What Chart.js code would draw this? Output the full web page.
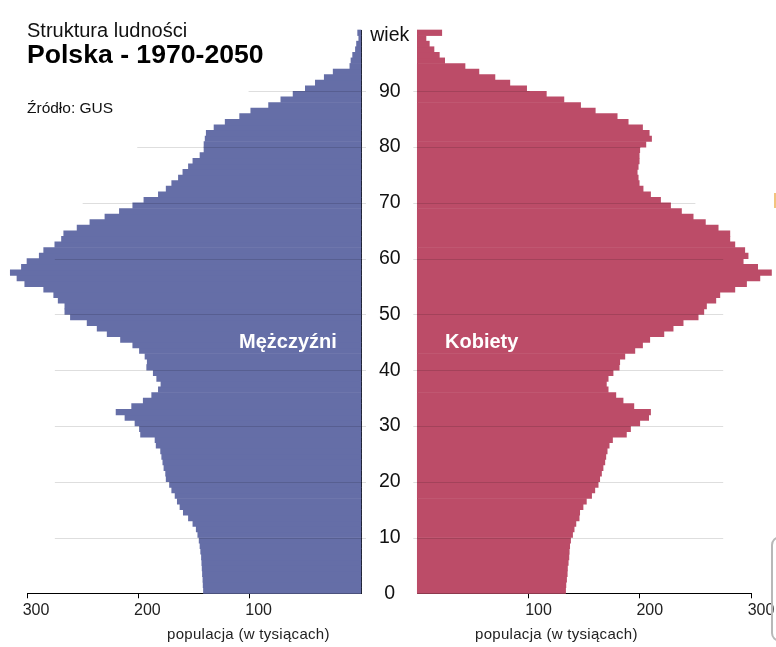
<!DOCTYPE html>
<html lang="pl">
<head>
<meta charset="utf-8">
<title>Struktura ludności – Polska 1970-2050</title>
<script src="https://cdn.jsdelivr.net/npm/chart.js@4.4.1/dist/chart.umd.min.js"></script>
<style>
  html, body { margin: 0; padding: 0; background: #ffffff; }
  body { width: 776px; height: 647px; position: relative; overflow: hidden;
         font-family: "Liberation Sans", Arial, sans-serif; color: #111; }
  canvas.layer { position: absolute; left: 0; top: 0; }
  .txt { position: absolute; white-space: nowrap; }
  #t1 { left: 27px; top: 20px; font-size: 20px; line-height: 20px; }
  #t2 { left: 27px; top: 41px; font-size: 26.6px; line-height: 26px; font-weight: bold; color: #000; }
  #src { left: 27px; top: 100px; font-size: 15.5px; line-height: 15px; }
  .sex { font-size: 20px; line-height: 20px; font-weight: bold; color: #fff; top: 331px; }
  #lm { left: 239px; }
  #lk { left: 445px; }
  .axt { font-size: 15px; line-height: 15px; top: 626px; letter-spacing: 0.3px; color: #222; }
  #axl { left: 167px; }
  #axr { left: 475px; }
  #deco1 { position: absolute; left: 774px; top: 193px; width: 3px; height: 15px; background: #f2c47e; }
  #deco2 { position: absolute; left: 771px; top: 536px; width: 20px; height: 102px;
           border: 2px solid #b8b8b8; border-radius: 9px; }
</style>
</head>
<body>
<canvas id="men" class="layer" width="776" height="647"></canvas>
<canvas id="women" class="layer" width="776" height="647"></canvas>

<div id="t1" class="txt">Struktura ludności</div>
<div id="t2" class="txt">Polska - 1970-2050</div>
<div id="src" class="txt">Źródło: GUS</div>
<div id="lm" class="txt sex">Mężczyźni</div>
<div id="lk" class="txt sex">Kobiety</div>
<div id="axl" class="txt axt">populacja (w tysiącach)</div>
<div id="axr" class="txt axt">populacja (w tysiącach)</div>
<div id="deco1"></div>
<div id="deco2"></div>

<script>
// ---------- data (thousands of people by age) ----------
const ages = [0,1,2,3,4,5,6,7,8,9,10,11,12,13,14,15,16,17,18,19,20,21,22,23,24,25,26,27,28,29,30,
  31,32,33,34,35,36,37,38,39,40,41,42,43,44,45,46,47,48,49,50,51,52,53,54,55,56,57,58,59,60,
  61,62,63,64,65,66,67,68,69,70,71,72,73,74,75,76,77,78,79,80,81,82,83,84,85,86,87,88,89,90,
  91,92,93,94,95,96,97,98,99,100];

const menK = [141.5,141.8,142,142.4,142.7,143,143.3,144,144.6,145.4,
  146.6,148,151,155,159.6,162.6,165,167,170,172,
  175,175.5,177,178,179,180,184,185,198,199,
  203,212,220,206,195.6,188,182,179.7,183.5,186.6,
  192.5,192,194,199,205,216,228,237,246,261,
  266,266,272,276,285,302,309,315,305,300,
  289,285,275,269,267,255,243.5,230,217,205,
  195,182,175,170,164,160,155,151,144.6,141,
  141,140,139,132,122,109,99,83,72,61,
  50,41,33,25,10,9,7.5,5,4,2,3];

const womenK = [133.3,133.6,134.2,134.8,135,135.7,136.3,136.6,137,137.8,
  139.6,141,142.6,145.5,146,149,152,156.7,159.6,162.6,
  164,165.6,167,168.6,169.5,170.7,172.5,175.5,188,191.7,
  200,208,209.7,194.7,185,178.5,171.6,170,171.6,176,
  181.5,182,186.6,195.6,202.5,209,221.7,230,239,252.5,
  257.6,260,268.4,272,285.5,296,308,318.4,306,293,
  297.4,294.4,285.5,281,281,270.5,259,248,237.5,227.7,
  218.7,209.7,203,199.5,198.6,197.7,198.6,199.5,199.5,200,
  205.5,210.6,208.5,202.5,189.6,179.7,160,146.8,131.8,116,
  98.3,83.2,69.8,55.4,42.9,24.6,19.8,15,10.8,7.8,22];

const ageTicks = [0,10,20,30,40,50,60,70,80,90,100];
const ageTickLabels = ['0','10','20','30','40','50','60','70','80','90','wiek'];
const popTicks = [100,200,300];
// ---------- styling ----------
const MEN_COLOR = '#656ea7';
const WOMEN_COLOR = '#bc4c68';
const FONT = '"Liberation Sans", Arial, sans-serif';
const AGE_MAX = 101;
const POP_MAX = 300;
const gridReach = {90: 101, 80: 201, 70: 250};   // how far the light age grid reaches
const gridReachDefault = 275;

const gridPlugin = {
  id: 'ageGrid',
  afterDatasetsDraw(chart, args, opts) {
    const {ctx} = chart;
    const xs = chart.scales.x, ys = chart.scales.y;
    ctx.save();
    ctx.strokeStyle = 'rgba(0,0,0,0.13)';
    ctx.lineWidth = 1;
    ageTicks.forEach(v => {
      if (v === 0 || v === 100) return;
      const reach = gridReach[v] !== undefined ? gridReach[v] : gridReachDefault;
      const y = Math.round(ys.getPixelForValue(v)) + 0.5;
      const x0 = xs.getPixelForValue(0) + (opts.side === 'left' ? 5 : -4);
      const x1 = xs.getPixelForValue(reach);
      ctx.beginPath();
      ctx.moveTo(x0, y);
      ctx.lineTo(x1, y);
      ctx.stroke();
    });
    ctx.restore();
  }
};

function popAxis(reverse, labelOffset) {
  return {
    type: 'linear', position: 'bottom', min: 0, max: POP_MAX, reverse: reverse, z: 1, offset: false,
    afterBuildTicks: s => { s.ticks = popTicks.map(v => ({value: v})); },
    afterFit: s => { s.height = 647 - 593.3; },
    border: {display: true, color: '#000', width: 1},
    grid: {display: true, drawOnChartArea: false, drawTicks: true, tickLength: 5,
           color: '#000', tickColor: '#000', lineWidth: 1, offset: false},
    ticks: {font: {family: FONT, size: 16}, color: '#222', padding: 3, labelOffset: labelOffset,
            maxRotation: 0, autoSkip: false}
  };
}

function table(values) {
  return ages.map((a, i) => ({x: values[i], y: a + 0.5}));
}

const common = {
  responsive: false,
  animation: false,
  events: [],
  devicePixelRatio: 1,
  indexAxis: 'y',
  plugins: {legend: {display: false}, tooltip: {enabled: false}, title: {display: false}}
};

Chart.defaults.font.family = FONT;

// men (left)
new Chart(document.getElementById('men'), {
  type: 'bar',
  data: {
    datasets: [{
      label: 'Mężczyźni', data: table(menK), backgroundColor: MEN_COLOR,
      borderWidth: 0, barPercentage: 1, categoryPercentage: 1, clip: false
    }]
  },
  options: Object.assign({}, common, {
    layout: {padding: {left: 27, right: 776 - 361, top: 30, bottom: 0}, autoPadding: false},
    plugins: Object.assign({}, common.plugins, {ageGrid: {side: 'left'}}),
    scales: {
      x: popAxis(true, 9),
      y: {
        type: 'linear', position: 'right', min: 0, max: AGE_MAX, z: 1, offset: false,
        afterBuildTicks: s => { s.ticks = ageTicks.map(v => ({value: v})); },
        afterFit: s => { s.width = 0; },
        ticks: {display: false},
        grid: {display: false, drawTicks: false, offset: false},
        border: {display: true, color: '#000', width: 1}
      }
    }
  }),
  plugins: [gridPlugin]
});

// women (right)
new Chart(document.getElementById('women'), {
  type: 'bar',
  data: {
    datasets: [{
      label: 'Kobiety', data: table(womenK), backgroundColor: WOMEN_COLOR,
      borderWidth: 0, barPercentage: 1, categoryPercentage: 1, clip: false
    }]
  },
  options: Object.assign({}, common, {
    layout: {padding: {left: 361, right: 776 - 751, top: 30, bottom: 0}, autoPadding: false},
    plugins: Object.assign({}, common.plugins, {ageGrid: {side: 'right'}}),
    scales: {
      x: popAxis(false, 10),
      y: {
        type: 'linear', position: 'left', min: 0, max: AGE_MAX, z: 1, offset: false,
        afterBuildTicks: s => { s.ticks = ageTicks.map(v => ({value: v})); },
        afterFit: s => { s.width = 417.3 - 361; },
        ticks: {
          display: true, crossAlign: 'center', padding: 8, color: '#111',
          font: {family: FONT, size: 19.5},
          callback: v => ageTickLabels[ageTicks.indexOf(v)]
        },
        grid: {display: false, drawTicks: false, offset: false},
        border: {display: true, color: '#2a1a22', width: 1}
      }
    }
  }),
  plugins: [gridPlugin]
});
</script>
</body>
</html>
